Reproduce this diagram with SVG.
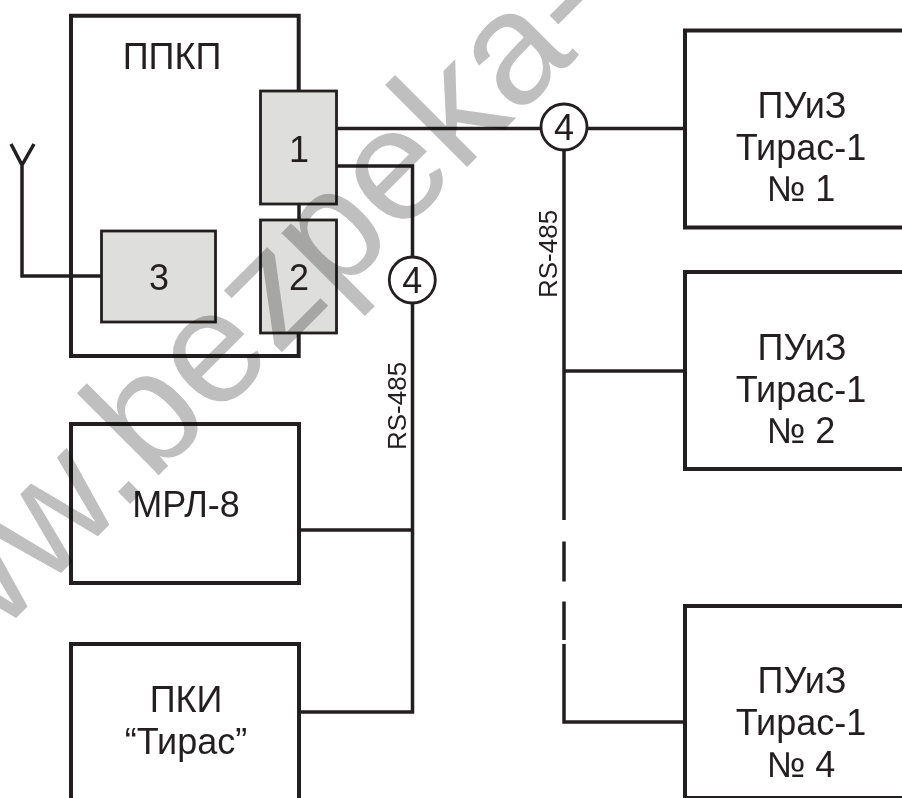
<svg xmlns="http://www.w3.org/2000/svg" width="902" height="798" viewBox="0 0 902 798">
<style>
text{font-family:"Liberation Sans",Arial,sans-serif;fill:#231f20;text-anchor:middle}
.t{font-size:36px}
.s{font-size:26px}
.b{fill:none;stroke:#231f20;stroke-width:4}
.g{fill:#dededd;stroke:#231f20;stroke-width:2.800}
.c{fill:none;stroke:#231f20;stroke-width:3.500}
.n{fill:#fff;stroke:#231f20;stroke-width:2.800}
</style>
<rect width="902" height="798" fill="#fff"/>
<g id="connectors">
<path class="c" d="M337 128.500H540M588 128.500H684M564 151V520M564 541.500V581.500M564 601.500V640M564 644V722H684M564 371H684"/>
<path class="c" d="M337 166H412.500V257M412.500 304V712H300M300 530H412.500"/>
<path class="c" d="M22 165V276H101M11 144L22 165L34 144"/>
<path class="c" d="M299 204V220"/>
</g>
<g id="ppkp"><path class="b" d="M298.700 91V15.700H71V356H298.700V333"/><text class="t" x="172" y="69">ППКП</text></g>
<g id="block1"><rect class="g" x="260.500" y="91" width="76" height="113"/><text class="t" x="299" y="162">1</text></g>
<g id="block2"><rect class="g" x="260.500" y="220" width="76" height="113"/><text class="t" x="299" y="289.500">2</text></g>
<g id="block3"><rect class="g" x="101.500" y="231" width="114" height="91"/><text class="t" x="159" y="289.500">3</text></g>
<g id="mrl"><rect class="b" x="71" y="424" width="228" height="159"/><text class="t" x="186" y="517">МРЛ-8</text></g>
<g id="pki"><path class="b" d="M71 798V644H299V798"/><text class="t" x="186" y="712">ПКИ</text><text class="t" x="186" y="754">“Тирас”</text></g>
<g id="puiz1"><path class="b" d="M902 30.500H685V227.500H902"/><text class="t" x="802" y="118">ПУиЗ</text><text class="t" x="801" y="160">Тирас-1</text><text class="t" x="801" y="201">№ 1</text></g>
<g id="puiz2"><path class="b" d="M902 272H685V469H902"/><text class="t" x="802" y="360">ПУиЗ</text><text class="t" x="801" y="402">Тирас-1</text><text class="t" x="801" y="443">№ 2</text></g>
<g id="puiz4"><path class="b" d="M902 606H685V798H902"/><text class="t" x="802" y="693">ПУиЗ</text><text class="t" x="801" y="735">Тирас-1</text><text class="t" x="801" y="777">№ 4</text></g>
<g id="bus4a"><circle class="n" cx="564" cy="127" r="23"/><text class="t" x="564" y="140">4</text></g>
<g id="bus4b"><circle class="n" cx="412.300" cy="280" r="23"/><text class="t" x="412.300" y="293">4</text></g>
<text class="s" transform="translate(556.500 298) rotate(-90)" style="text-anchor:start">RS-485</text>
<text class="s" transform="translate(405.500 450) rotate(-90)" style="text-anchor:start">RS-485</text>
<text x="0" y="0" transform="translate(-119 753) rotate(-45)" style="font-size:160px;fill:#bfbfbf;text-anchor:start;mix-blend-mode:multiply">www.bezpeka-</text>
</svg>
